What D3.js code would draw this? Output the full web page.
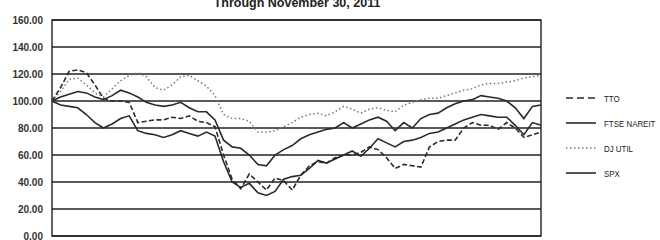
<!DOCTYPE html>
<html>
<head>
<meta charset="utf-8">
<script src="https://cdn.jsdelivr.net/npm/d3@7"></script>
<style>
  body { margin: 0; background: #fff; }
  svg text { font-family: "Liberation Sans", Arial, sans-serif; fill: #222; }
</style>
</head>
<body>
<svg id="chart" width="660" height="240"></svg>
<script>
// monthly index values, Feb 2007 .. Nov 2011 (base 100)
let seriesNames = ['TTO', 'FTSE NAREIT', 'DJ UTIL', 'SPX'];
let tto = [100,110,122,123,121,112,102,100,100,99,84,85,86,86,88,87,89,85,84,81,
           60,42,35,46,40,34,43,41,34,45,52,55,54,58,60,60,62,66,64,58,
           50,53,52,51,66,70,71,71,80,84,82,82,79,84,80,73,75,77];
let nareit = [100,97,96,95,90,84,80,83,87,89,78,76,75,73,75,78,76,74,77,74,
              55,40,36,39,32,30,33,42,44,45,50,56,54,57,60,63,59,65,72,69,
              66,70,71,73,76,77,80,83,86,88,90,89,88,88,82,75,84,82];
let djutil = [100,107,116,117,112,106,103,109,115,119,121,118,110,108,112,118,119,115,111,104,
              90,87,87,85,77,77,78,81,84,88,90,91,89,92,96,94,91,94,95,93,
              92,97,99,101,102,102,104,106,108,109,112,113,113,114,115,117,118,119];
let spx = [100,103,105,107,106,103,101,104,108,106,103,99,97,96,97,99,95,92,92,86,
           71,66,65,60,53,52,60,64,67,72,75,77,79,80,84,80,83,86,88,85,
           78,84,80,87,90,91,95,98,100,101,104,103,102,100,95,87,96,97];
let yTicks = [0,20,40,60,80,100,120,140,160];

let svg = d3.select('#chart');
let plotLeft = 52, plotRight = 541, plotTop = 20, plotBottom = 236;

let x = d3.scaleLinear().domain([0, tto.length - 1]).range([plotLeft, plotRight]);
let y = d3.scaleLinear().domain([0, 160]).range([plotBottom, plotTop]);

svg.append('text')
   .attr('x', 297).attr('y', 7)
   .attr('text-anchor', 'middle')
   .style('font-weight', 'bold')
   .style('font-size', '12.5px')
   .text('Through November 30, 2011');

// gridlines
svg.append('g')
   .selectAll('line')
   .data(yTicks)
   .enter()
   .append('line')
   .attr('x1', plotLeft).attr('x2', plotRight)
   .attr('y1', d => y(d)).attr('y2', d => y(d))
   .attr('stroke', '#222')
   .attr('stroke-width', 1.4);

// y axis labels
let yAxis = d3.axisLeft(y).tickValues(yTicks).tickSize(0).tickPadding(9).tickFormat(d3.format('.2f'));
let ga = svg.append('g').attr('transform', 'translate(' + plotLeft + ',0)').call(yAxis);
ga.select('.domain').remove();
ga.selectAll('text')
  .style('font-size', '10px')
  .style('font-weight', 'bold')
  .style('fill', '#333');

// frame
svg.append('rect')
   .attr('x', plotLeft).attr('y', plotTop)
   .attr('width', plotRight - plotLeft).attr('height', plotBottom - plotTop)
   .attr('fill', 'none')
   .attr('stroke', '#222')
   .attr('stroke-width', 1.4);

let styles = [
  { data: tto,    stroke: '#2a2a2a', width: 1.6, dash: '5,2.5' },
  { data: nareit, stroke: '#2a2a2a', width: 1.6, dash: null },
  { data: djutil, stroke: '#777',    width: 1.5, dash: '1.5,2.5' },
  { data: spx,    stroke: '#2a2a2a', width: 1.6, dash: null }
];

let line = d3.line().x((d, i) => x(i)).y(d => y(d));

styles.forEach(s => {
  svg.append('path')
     .datum(s.data)
     .attr('d', line)
     .attr('fill', 'none')
     .attr('stroke', s.stroke)
     .attr('stroke-width', s.width)
     .attr('stroke-dasharray', s.dash);
});

// legend
let legend = svg.selectAll('.legend')
  .data(seriesNames)
  .enter()
  .append('g')
  .attr('class', 'legend')
  .attr('transform', (d, i) => 'translate(566,' + (98 + i * 25) + ')');

legend.append('line')
  .attr('x1', 0).attr('x2', 30)
  .attr('stroke', (d, i) => styles[i].stroke)
  .attr('stroke-width', (d, i) => i == 2 ? 1.3 : 1.6)
  .attr('stroke-dasharray', (d, i) => i == 0 ? '7,4' : (i == 2 ? '1.5,2.5' : null));

legend.append('text')
  .attr('transform', 'translate(38,3.5) scale(0.88,1)')
  .style('font-size', '9px')
  .text(d => d);
</script>
</body>
</html>
